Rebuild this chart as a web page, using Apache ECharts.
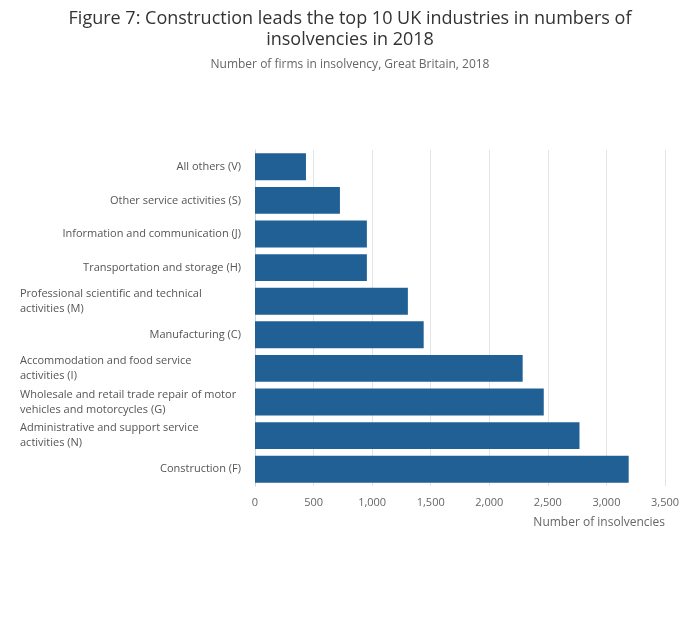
<!DOCTYPE html>
<html>
<head>
<meta charset="utf-8">
<script src="https://cdn.jsdelivr.net/npm/echarts@6/dist/echarts.min.js"></script>
<style>
body {
	margin: 0;
	background-color: #fff;
}

#main {
	width: 700px;
	height: 635px;
}
</style>
</head>
<body>
<div id="main"></div>
<script>

// bottom to top, as the category axis draws them
var industries = [
    'Construction (F)',
    'Administrative and support service\nactivities (N)',
    'Wholesale and retail trade repair of motor\nvehicles and motorcycles (G)',
    'Accommodation and food service\nactivities (I)',
    'Manufacturing (C)',
    'Professional scientific and technical\nactivities (M)',
    'Transportation and storage (H)',
    'Information and communication (J)',
    'Other service activities (S)',
    'All others (V)'
];

var insolvencies = [3190, 2770, 2465, 2285, 1440, 1305, 955, 955, 725, 435];

var xTicks = [0, 500, 1000, 1500, 2000, 2500, 3000, 3500];

var chart = echarts.init(document.getElementById('main'));

var option = {
    animation: false,
    textStyle: {
        fontFamily: '"Open Sans", sans-serif'
    },
    title: {
        text: 'Figure 7: Construction leads the top 10 UK industries in numbers of\ninsolvencies in 2018',
        subtext: 'Number of firms in insolvency, Great Britain, 2018',
        left: 345,
        top: 3,
        textAlign: 'center',
        itemGap: 9,
        textStyle: {
            fontSize: 18,
            fontWeight: 'normal',
            color: '#333',
            lineHeight: 21
        },
        subtextStyle: {
            fontSize: 12,
            color: '#666'
        }
    },
    grid: {
        left: 255,
        right: 35,
        top: 150,
        bottom: 149
    },
    xAxis: {
        type: 'value',
        min: xTicks[0],
        max: xTicks[xTicks.length - 1],
        interval: 500,
        name: 'Number of insolvencies',
        nameLocation: 'end',
        nameGap: 0,
        nameTextStyle: {
            align: 'right',
            verticalAlign: 'top',
            padding: [31, 0, 0, 0],
            fontSize: 12,
            color: '#666'
        },
        axisLine: { show: false },
        axisTick: { show: false },
        axisLabel: {
            margin: 11,
            fontSize: 11,
            color: '#666',
            formatter: function (v) {
                return echarts.format.addCommas(v);
            }
        },
        splitLine: {
            lineStyle: { color: '#e4e4e4' }
        }
    },
    yAxis: {
        type: 'category',
        data: industries,
        axisLine: {
            lineStyle: { color: '#c8d0e2' }
        },
        axisTick: {
            length: 10,
            lineStyle: { color: '#c8d0e2' }
        },
        axisLabel: {
            margin: 14,
            fontSize: 11,
            color: '#555',
            formatter: function (v) {
                if (v.indexOf('\n') < 0) return v;
                return v.split('\n').map(function (l) {
                    return '{w|' + l + '}';
                }).join('\n');
            },
            rich: {
                w: {
                    width: 221,
                    align: 'left',
                    fontSize: 11,
                    lineHeight: 15,
                    color: '#555'
                }
            }
        }
    },
    series: [
        {
            name: 'Insolvencies',
            type: 'bar',
            data: insolvencies,
            barCategoryGap: '20%',
            itemStyle: { color: '#206095' }
        }
    ]
};

chart.setOption(option);

</script>
</body>
</html>
